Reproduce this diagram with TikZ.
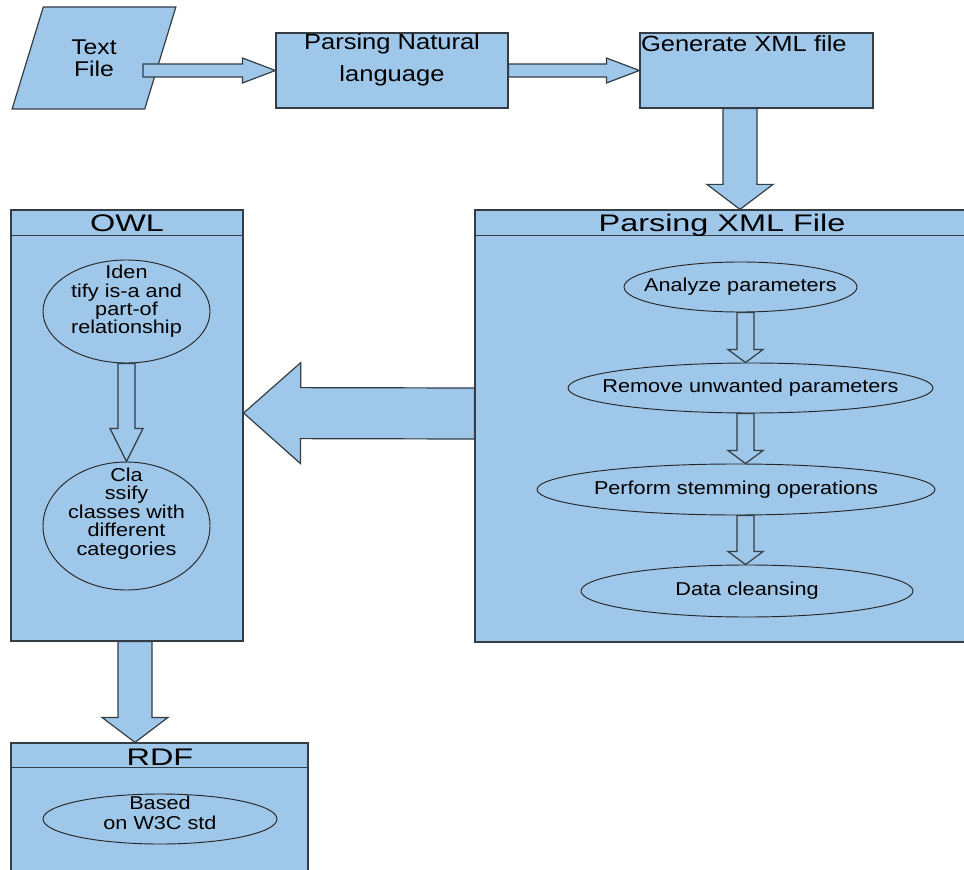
\documentclass[tikz,border=0pt]{standalone}
\usepackage{fontspec}
\setmainfont{Liberation Sans}[FakeStretch=1.16]
\newfontfamily\headfont{Liberation Sans}[FakeStretch=1.35]
\usepackage{tikz}
\usetikzlibrary{calc,positioning,shapes.geometric}
\definecolor{boxblue}{RGB}{158,199,233}
\definecolor{edgegray}{RGB}{52,60,68}
\def\pxu{0.75pt}
% block arrow: from, to, half shaft, half head, head length (in px)
\newcommand{\fatarrow}[5]{%
  \coordinate (fa-s) at (#1);
  \coordinate (fa-e) at (#2);
  \coordinate (fa-h) at ($(fa-e)!#5*\pxu!(fa-s)$);
  \draw[blockarrow] ($(fa-s)!#3*\pxu!90:(fa-e)$) -- ($(fa-h)!#3*\pxu!90:(fa-e)$)
    -- ($(fa-h)!#4*\pxu!90:(fa-e)$) -- (fa-e) -- ($(fa-h)!#4*\pxu!-90:(fa-e)$)
    -- ($(fa-h)!#3*\pxu!-90:(fa-e)$) -- ($(fa-s)!#3*\pxu!-90:(fa-e)$) -- cycle;
}

\begin{document}
\begin{tikzpicture}[x=0.75pt,y=-0.75pt,
  box/.style={draw=edgegray,fill=boxblue,line width=0.9pt},
  bar/.style={draw=edgegray,line width=0.9pt},
  oval/.style={ellipse,draw=black!85,fill=boxblue,line width=0.7pt,inner sep=0pt},
  ovaltext/.style={align=center,inner sep=0pt,font=\fontsize{14}{13.8}\selectfont},
  blockarrow/.style={draw=edgegray,fill=boxblue,line width=0.9pt,line join=miter},
  headtext/.style={font=\headfont\fontsize{18}{18}\selectfont,inner sep=0pt,anchor=base}]

\useasboundingbox (0,0) rectangle (964,870);

% top row
\node[box,trapezium,trapezium left angle=70,trapezium right angle=110,trapezium stretches=true,
  minimum width=164*\pxu,minimum height=102*\pxu,align=center,font=\fontsize{16}{16.5}\selectfont] (txt) at (94,58) {Text\\File};
\node[box,minimum width=232*\pxu,minimum height=75*\pxu,
  label={[anchor=north,inner sep=0pt,yshift=-1pt,align=center,font=\fontsize{16.5}{24}\selectfont]north:{Parsing Natural\\language}}] (nl) at (392,70.5) {};
\node[box,minimum width=233*\pxu,minimum height=75*\pxu,
  label={[anchor=north west,inner sep=0pt,xshift=1pt,yshift=-2pt,font=\fontsize{16.5}{16.5}\selectfont]north west:Generate XML file}] (gx) at (756.5,70.5) {};

% parsing xml
\node[box,minimum width=494*\pxu,minimum height=432*\pxu] (px) at (722,426) {};
\draw[bar] ($(px.north west)+(0,26)$) -- ($(px.north east)+(0,26)$);
\node[headtext] (pxt) at (722,232) {Parsing XML File};
\node[oval,minimum width=233*\pxu,minimum height=50*\pxu,
  label={[ovaltext]center:Analyze parameters}] (an) at (740.5,287) {};
\node[oval,minimum width=365*\pxu,minimum height=50*\pxu,
  label={[ovaltext]center:Remove unwanted parameters}] (rm) at (750.5,388) {};
\node[oval,minimum width=398*\pxu,minimum height=51*\pxu,
  label={[ovaltext]center:Perform stemming operations}] (st) at (736,489.5) {};
\node[oval,minimum width=332*\pxu,minimum height=52*\pxu,
  label={[ovaltext]center:Data cleansing}] (dc) at (747,591) {};
\coordinate (col) at (745.5,0);

% owl
\node[box,minimum width=232*\pxu,minimum height=431*\pxu] (owl) at (127,425.5) {};
\draw[bar] ($(owl.north west)+(0,26)$) -- ($(owl.north east)+(0,26)$);
\node[headtext] (owlt) at (127,232) {OWL};
\node[oval,minimum width=167*\pxu,minimum height=103*\pxu,
  label={[ovaltext,yshift=7.5pt]center:{Iden\\tify is-a and\\part-of\\relationship}}] (idf) at (126.5,311.5) {};
\node[oval,minimum width=167*\pxu,minimum height=128*\pxu,
  label={[ovaltext,yshift=9.4pt]center:{Cla\\ssify\\classes with\\different\\categories}}] (cls) at (126.5,526) {};

% rdf
\node[box,minimum width=297*\pxu,minimum height=132*\pxu] (rdf) at (159.5,809) {};
\draw[bar] ($(rdf.north west)+(0,25)$) -- ($(rdf.north east)+(0,25)$);
\node[headtext] (rdft) at (160,765) {RDF};
\node[oval,minimum width=234*\pxu,minimum height=50*\pxu,
  label={[ovaltext,font=\fontsize{14}{15}\selectfont,yshift=4.5pt]center:{Based\\on W3C std}}] (w3c) at (160,819) {};

% arrows
\coordinate (txout) at (143,70.5);
\fatarrow{txout}{nl.west}{6.5}{12.5}{33}
\fatarrow{nl.east}{gx.west}{6.5}{12.5}{33}
\fatarrow{$(gx.south)+(-16.5,0)$}{$(gx.south |- px.north)+(-16.5,0)$}{17}{33}{25}
\fatarrow{an.south -| col}{rm.north -| col}{8.5}{17.5}{13}
\fatarrow{rm.south -| col}{st.north -| col}{8.5}{17.5}{13}
\fatarrow{st.south -| col}{dc.north -| col}{8.5}{17.5}{13}
\fatarrow{$(px.west)+(0,-12.5)$}{$(owl.east)+(0,-12.5)$}{25.5}{50.5}{57}
\fatarrow{idf.south}{cls.north}{8.5}{16.5}{33}
\fatarrow{$(owl.south)+(8,0)$}{$(owl.south |- rdf.north)+(8,0)$}{17}{33}{25}
\end{tikzpicture}
\end{document}
